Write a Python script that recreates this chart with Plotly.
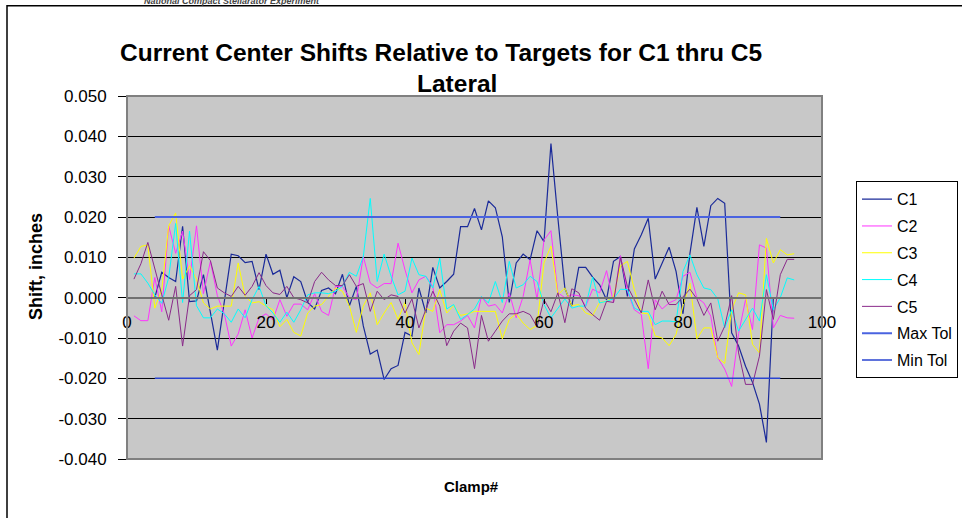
import plotly.graph_objects as go

clamp = list(range(1, 97))

c1 = [0.0, 0.0, 0.0, 0.0, 0.0063, 0.005, 0.004, 0.0177, -0.001, -0.0008,
      0.0057, -0.0035, -0.013, -0.001, 0.0108, 0.0104, 0.0087, 0.009, 0.002, 0.0108,
      0.0058, 0.0068, 0.0, 0.0052, 0.004, -0.0012, -0.0028, 0.0018, 0.0024, 0.001,
      0.0058, -0.002, 0.0028, -0.007, -0.014, -0.013, -0.0203, -0.0176, -0.0168, -0.0086,
      -0.0095, 0.0024, -0.0038, 0.0075, 0.0024, 0.004, 0.0058, 0.0176, 0.0176, 0.0221,
      0.0168, 0.024, 0.0223, 0.0151, -0.0012, 0.0086, 0.0108, 0.0094, 0.0166, 0.0139,
      0.0382, 0.0197, 0.0024, -0.0021, 0.0075, 0.0075, 0.0051, 0.0032, -0.0005, 0.009,
      0.0102, 0.0003, 0.0121, 0.0156, 0.0197, 0.0046, 0.0086, 0.0125, 0.0065, -0.004,
      0.011, 0.0224, 0.0127, 0.0228, 0.0246, 0.0234, -0.0087, -0.012, -0.017, -0.021,
      -0.0264, -0.0359, 0.0, 0.0, 0.0, 0.0]
c2 = [-0.0045, -0.0057, -0.0057, 0.005, -0.0035, 0.0178, 0.011, 0.0165, 0.0045, 0.0178,
      0.001, 0.009, 0.0005, -0.004, -0.012, -0.009, -0.003, -0.010, -0.005, -0.004,
      -0.0055, -0.0005, -0.0046, -0.0016, -0.0016, -0.003, 0.001, -0.0034, -0.0044, 0.0028,
      0.0028, 0.0, -0.0005, 0.0102, 0.0036, 0.0024, 0.0035, 0.0035, 0.0135, 0.0069,
      0.0012, 0.0044, 0.0053, 0.0028, -0.0087, -0.0067, -0.0067, -0.0058, -0.0044, -0.0075,
      0.0003, -0.0021, -0.0017, -0.0038, 0.0012, -0.005, 0.0003, 0.0094, -0.0005, 0.0143,
      0.0166, 0.0012, 0.0, 0.0007, 0.0005, -0.0021, 0.0021, 0.0012, 0.0067, -0.0012,
      0.0104, 0.0016, -0.003, -0.0042, -0.0176, -0.0005, -0.0028, -0.0013, -0.0005, 0.0053,
      0.0063, 0.0, -0.0013, -0.0046, -0.0149, -0.0177, -0.022, -0.0089, -0.0005, -0.0079,
      0.0131, 0.0123, -0.0075, -0.0044, -0.005, -0.0051]
c3 = [0.0098, 0.0127, 0.0131, -0.0026, 0.002, 0.0178, 0.021, 0.0046, 0.0079, 0.0046,
      -0.0013, -0.0028, -0.0021, -0.0021, -0.0021, 0.0086, 0.0003, -0.0013, -0.001, -0.0021,
      -0.003, -0.0072, -0.0054, -0.0086, -0.0095, -0.0038, -0.0021, -0.0017, 0.0003, 0.0024,
      0.0016, -0.0021, -0.0086, -0.0021, 0.0012, -0.0067, -0.0038, -0.0012, -0.0054, -0.0012,
      -0.0112, -0.0141, -0.0026, -0.0034, 0.002, -0.0038, -0.002, -0.0044, -0.004, -0.0034,
      -0.0034, -0.0034, -0.0034, -0.0102, -0.0054, -0.004, -0.0063, -0.0079, -0.0069, 0.0086,
      0.0128, 0.0007, 0.0024, -0.002, -0.0017, -0.0038, -0.0044, -0.0012, -0.0009, 0.0003,
      0.0079, 0.009, 0.002, -0.0038, -0.004, -0.0095, -0.01, -0.0119, -0.0091, -0.002,
      0.0036, -0.0102, -0.0075, -0.0075, -0.0149, -0.0163, -0.003, 0.0012, 0.0007, -0.0116,
      -0.0137, 0.0147, 0.0086, 0.0119, 0.0106, 0.0109]
c4 = [0.0059, 0.0059, 0.0036, 0.0007, -0.0014, 0.005, 0.0184, -0.0012, 0.0165, -0.002,
      -0.005, -0.005, -0.0028, -0.004, -0.0061, -0.0028, -0.005, -0.0005, 0.0028, -0.002,
      -0.0038, -0.0061, -0.0036, -0.0061, -0.003, 0.0007, 0.0012, 0.0012, 0.001, 0.0016,
      0.0028, 0.0063, 0.0053, 0.0102, 0.0246, 0.004, 0.0108, 0.0053, 0.0007, 0.0016,
      0.0098, 0.0057, 0.0053, 0.0024, 0.0098, -0.0028, -0.0017, -0.0054, -0.0042, -0.0028,
      0.0003, -0.0013, 0.004, -0.0012, 0.009, 0.0024, 0.0032, 0.0053, 0.004, -0.0017,
      -0.005, -0.0028, -0.0003, -0.0026, -0.0021, -0.0021, 0.0051, -0.0013, -0.0009, -0.0003,
      0.0021, 0.002, -0.0026, -0.0034, -0.0034, -0.0067, -0.0058, -0.0058, -0.006, 0.0065,
      0.0106, 0.0057, 0.0024, 0.002, -0.0003, -0.0075, -0.003, -0.0083, -0.0054, -0.0026,
      -0.0058, 0.0057, -0.003, 0.0, 0.0049, 0.0044]
c5 = [0.0046, 0.0084, 0.0137, 0.0069, 0.0007, -0.0056, 0.0028, -0.012, 0.0005, 0.002,
      0.0114, 0.0092, 0.0024, 0.0012, 0.0003, 0.0028, 0.0006, 0.0028, 0.0062, 0.003,
      0.0012, 0.0008, 0.0028, 0.0, -0.0005, -0.0013, 0.004, 0.0063, 0.0044, 0.003,
      0.003, 0.0057, 0.0028, 0.0035, -0.0034, 0.0016, -0.0005, 0.0007, 0.0003, -0.0038,
      -0.0003, -0.0075, -0.003, 0.0016, -0.0021, -0.0119, -0.0083, -0.0063, -0.0075, -0.0176,
      -0.0044, -0.0108, -0.0083, -0.0058, -0.004, -0.004, -0.0034, -0.0042, -0.0073, -0.0005,
      -0.0035, 0.0012, -0.0062, 0.0022, 0.0012, -0.0026, -0.0042, -0.0056, -0.0009, -0.0012,
      0.01, 0.0028, -0.0005, -0.0038, 0.0044, -0.003, 0.0016, -0.0017, -0.0017, 0.0003,
      0.0021, -0.0003, -0.0044, -0.0013, -0.0108, -0.0071, 0.0005, -0.0137, -0.0215, -0.0215,
      -0.0145, 0.002, -0.0054, 0.0057, 0.0095, 0.0095]

tol_x = [4, 94]
max_tol = [0.02, 0.02]
min_tol = [-0.02, -0.02]

y_ticks = [0.05, 0.04, 0.03, 0.02, 0.01, 0.0, -0.01, -0.02, -0.03, -0.04]
y_labels = ['0.050', '0.040', '0.030', '0.020', '0.010', '0.000',
            '-0.010', '-0.020', '-0.030', '-0.040']

FONT = 'Liberation Sans, Arial, sans-serif'

# plot area in pixels (for placing the Excel-style extras)
L, R, T, B = 127, 822, 95.5, 459.5


def px(x, y):
    return (x - L) / (R - L), (B - y) / (B - T)


series = [
    ('C1', c1, '#1a2a99', 1.2),
    ('C2', c2, '#ff33ff', 1),
    ('C3', c3, '#ffff00', 1),
    ('C4', c4, '#00ffff', 1),
    ('C5', c5, '#8a2a8a', 1),
]

fig = go.Figure()
for name, vals, col, w in series:
    fig.add_trace(go.Scatter(x=clamp, y=vals, mode='lines', name=name, legendgroup=name,
                             line=dict(color=col, width=w)))
fig.add_trace(go.Scatter(x=tol_x, y=max_tol, mode='lines', name='Max Tol', legendgroup='max',
                         line=dict(color='#4a63e0', width=2)))
fig.add_trace(go.Scatter(x=tol_x, y=min_tol, mode='lines', name='Min Tol', legendgroup='min',
                         line=dict(color='#2a44d0', width=1.5)))

x0pos = (0 - (-0.04)) / 0.09

fig.update_layout(
    width=962, height=518,
    margin=dict(l=L, r=962 - R, t=T, b=518 - B, autoexpand=False),
    paper_bgcolor='white', plot_bgcolor='#c8c8c8',
    font=dict(family=FONT, size=14, color='black'),
    showlegend=True,
    legend=dict(x=px(856, 0)[0], y=px(0, 181)[1], xanchor='left', yanchor='top',
                bordercolor='black', borderwidth=1, bgcolor='white',
                font=dict(size=16), traceorder='grouped', tracegroupgap=3),
    xaxis=dict(range=[0, 100], tickvals=[0, 20, 40, 60, 80, 100], showgrid=False,
               zeroline=False, anchor='free', position=x0pos, showline=True,
               linecolor='#707070', linewidth=2, ticks='outside', ticklen=5,
               tickcolor='black', ticklabelstandoff=4, tickfont=dict(size=17)),
    yaxis=dict(range=[-0.04, 0.05], tickvals=y_ticks, ticktext=y_labels,
               showgrid=True, gridcolor='black', gridwidth=1, zeroline=False,
               showline=True, linecolor='black', linewidth=1, ticks='outside',
               ticklen=8, tickcolor='black', ticklabelstandoff=8,
               tickfont=dict(size=17)),
    shapes=[
        dict(type='rect', xref='paper', yref='paper', x0=0, x1=1, y0=0, y1=1,
             line=dict(color='#808080', width=2), layer='above'),
        dict(type='rect', xref='paper', yref='paper',
             x0=px(7, 0)[0], x1=1.3, y0=-0.3, y1=px(0, 5)[1],
             line=dict(color='black', width=1.5)),
    ],
)

ann = [
    ('Current Center Shifts Relative to Targets for C1 thru C5', 441, 52, 24.5, 0),
    ('Lateral', 457, 83, 24.5, 0),
    ('Shift, inches', 36, 266, 18, -90),
    ('Clamp#', 471, 487, 15, 0),
]
for text, ax, ay, size, ang in ann:
    xp, yp = px(ax, ay)
    fig.add_annotation(text=f'<b>{text}</b>', x=xp, y=yp,
                       xref='paper', yref='paper', showarrow=False, textangle=ang,
                       font=dict(size=size, family=FONT), xanchor='center', yanchor='middle')

xp, yp = px(232, 0)
fig.add_annotation(text='<i><b>National Compact Stellarator Experiment</b></i>', x=xp, y=yp,
                   xref='paper', yref='paper', showarrow=False,
                   font=dict(size=9, family=FONT, color='#444444'),
                   xanchor='center', yanchor='middle')

fig.write_html('out.html', config={'displayModeBar': False},
               post_script="document.body.style.margin='0';")
